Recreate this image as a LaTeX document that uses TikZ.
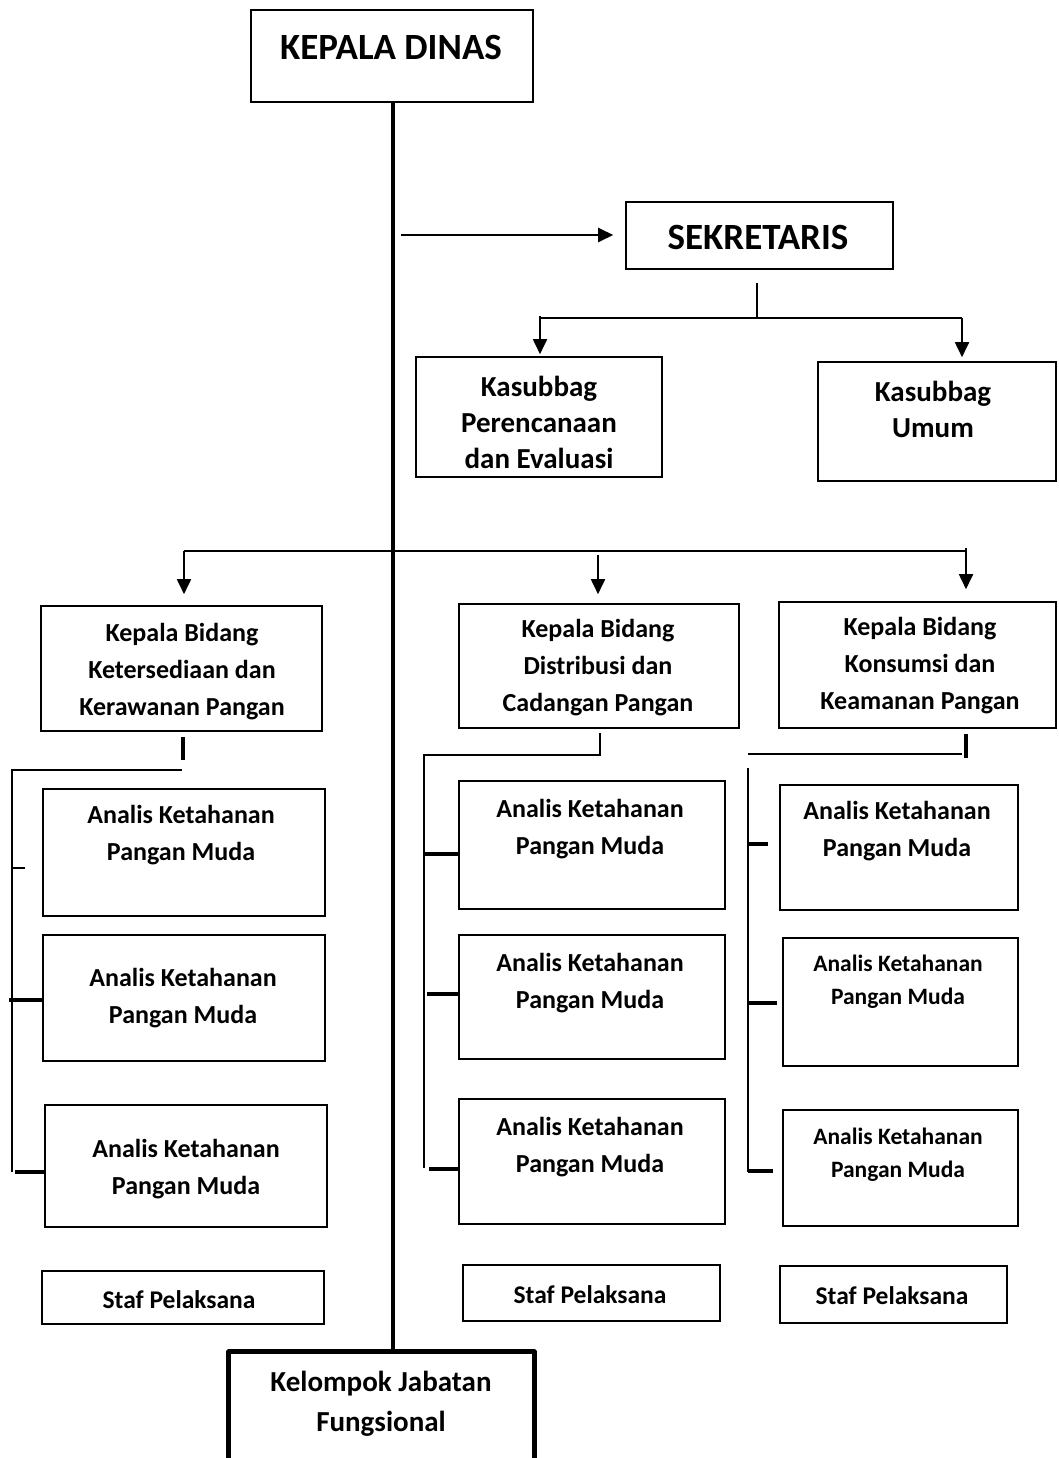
\documentclass[tikz,border=0pt]{standalone}
\usepackage{fontspec}
\setmainfont{Carlito}
\usetikzlibrary{arrows.meta,fit}

\tikzset{
  box/.style={draw,line width=1.6pt,inner sep=0pt},
  lbl/.style={align=center,inner sep=0pt,font=\bfseries\fontsize{26}{37}\selectfont},
  small/.style={lbl,font=\bfseries\fontsize{23.5}{33}\selectfont},
  staf/.style={lbl,font=\bfseries\fontsize{25.5}{30}\selectfont},
  arr/.style={line width=2.4pt,-{Triangle[length=15pt,width=14pt]}},
  link/.style={line width=1.8pt},
  tick/.style={line width=3.5pt}
}

\begin{document}
\begin{tikzpicture}[x=1pt,y=-1pt]
\useasboundingbox (0,0) rectangle (1058,1458);

% top level
\node[box] (kd) [fit={(251,10) (533,102)}] {};
\node[lbl,font=\bfseries\fontsize{37}{40}\selectfont] (kdt) at (391,47) {KEPALA DINAS};
\node[box] (sek) [fit={(626,202) (893,269)}] {};
\node[lbl,font=\bfseries\fontsize{37}{40}\selectfont] (sekt) at (758,237) {SEKRETARIS};

% sekretariat
\node[box] (kpe) [fit={(416,357) (662,477)}] {};
\node[lbl,font=\bfseries\fontsize{29}{36}\selectfont] (kpet) at (539,422) {Kasubbag\\Perencanaan\\dan Evaluasi};
\node[box] (kum) [fit={(818,362) (1056,481)}] {};
\node[lbl,font=\bfseries\fontsize{29}{36}\selectfont] (kumt) at (933,409) {Kasubbag\\Umum};

% bidang
\node[box] (kb1) [fit={(41,606) (322,731)}] {};
\node[lbl] (kb1t) at (182,672) {Kepala Bidang\\Ketersediaan dan\\Kerawanan Pangan};
\node[box] (kb2) [fit={(459,604) (739,728)}] {};
\node[lbl] (kb2t) at (598,668) {Kepala Bidang\\Distribusi dan\\Cadangan Pangan};
\node[box] (kb3) [fit={(779,602) (1056,728)}] {};
\node[lbl] (kb3t) at (920,666) {Kepala Bidang\\Konsumsi dan\\Keamanan Pangan};

% analis, kiri
\node[box] (al1) [fit={(43,789) (325,916)}] {};
\node[lbl] at (181,835) {Analis Ketahanan\\Pangan Muda};
\node[box] (al2) [fit={(43,935) (325,1061)}] {};
\node[lbl] at (183,998) {Analis Ketahanan\\Pangan Muda};
\node[box] (al3) [fit={(45,1105) (327,1227)}] {};
\node[lbl] at (186,1169) {Analis Ketahanan\\Pangan Muda};
\node[box] (sl) [fit={(42,1271) (324,1324)}] {};
\node[staf] at (179,1300) {Staf Pelaksana};

% analis, tengah
\node[box] (am1) [fit={(459,781) (725,909)}] {};
\node[lbl] at (590,829) {Analis Ketahanan\\Pangan Muda};
\node[box] (am2) [fit={(459,935) (725,1059)}] {};
\node[lbl] at (590,983) {Analis Ketahanan\\Pangan Muda};
\node[box] (am3) [fit={(459,1099) (725,1224)}] {};
\node[lbl] at (590,1147) {Analis Ketahanan\\Pangan Muda};
\node[box] (sm) [fit={(463,1265) (720,1321)}] {};
\node[staf] at (590,1295) {Staf Pelaksana};

% analis, kanan
\node[box] (ar1) [fit={(780,785) (1018,910)}] {};
\node[lbl] at (897,831) {Analis Ketahanan\\Pangan Muda};
\node[box] (ar2) [fit={(783,938) (1018,1066)}] {};
\node[small] at (898,982) {Analis Ketahanan\\Pangan Muda};
\node[box] (ar3) [fit={(783,1110) (1018,1226)}] {};
\node[small] at (898,1155) {Analis Ketahanan\\Pangan Muda};
\node[box] (sr) [fit={(780,1266) (1007,1323)}] {};
\node[staf] at (892,1296) {Staf Pelaksana};

% jabatan fungsional
\node[inner sep=0pt] (kjf) [fit={(229,1352) (534,1470)}] {};
\draw[line width=5pt,line join=round] (kjf.south west) -- (kjf.north west) -- (kjf.north east) -- (kjf.south east);
\node[lbl,font=\bfseries\fontsize{29}{40}\selectfont] at (381,1404) {Kelompok Jabatan\\Fungsional};

% garis komando
\coordinate (trunk) at (393,102);
\draw[line width=4pt] (trunk) -- (trunk |- kjf.north);
\coordinate (sekin) at (401,235);
\draw[arr] (sekin) -- ([xshift=-12pt]sek.west |- sekin);

\coordinate (sekout) at (757,283);
\draw[link] (sekout) -- (757,318);
\draw[link] (540,318) -- (962,318);
\draw[arr,link] (540,316) -- ([yshift=2pt]kpe.north -| 540,0);
\draw[arr,link] (962,318) -- ([yshift=4pt]kum.north -| 962,0);

\draw[link] (184,551) -- (966,551);
\draw[arr,link] (184,551) -- ([yshift=11pt]kb1.north -| 184,0);
\draw[arr,link] (598,555) -- ([yshift=9pt]kb2.north -| 598,0);
\draw[arr,link] (966,548) -- ([yshift=12pt]kb3.north -| 966,0);

% cabang kiri
\draw[tick] (183,737) -- (183,760);
\draw[link] (182,770) -- (12,770) -- (12,1172);
\draw[line width=1.4pt] (12,868) -- (25,868);
\draw[tick] (9,1000) -- (al2.west |- 0,1000);
\draw[tick] (15,1172) -- (al3.west |- 0,1172);

% cabang tengah
\draw[link] (600,733) -- (600,755) -- (424,755) -- (424,1168);
\draw[tick] (424,854) -- (am1.west |- 0,854);
\draw[tick] (427,994) -- (am2.west |- 0,994);
\draw[tick] (429,1169) -- (am3.west |- 0,1169);

% cabang kanan
\draw[tick] (966,734) -- (966,758);
\draw[link] (748,754) -- (962,754);
\draw[link] (748,768) -- (748,1172);
\draw[tick] (748,844) -- (768,844);
\draw[tick] (748,1003) -- (777,1003);
\draw[tick] (748,1171) -- (773,1171);
\end{tikzpicture}
\end{document}
